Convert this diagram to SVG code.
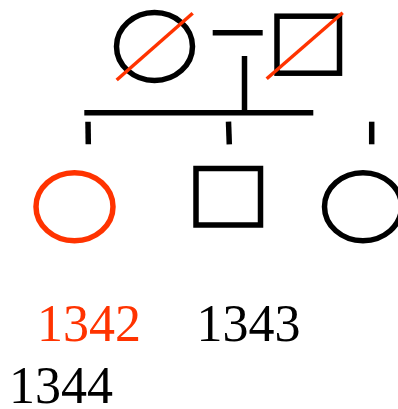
<svg xmlns="http://www.w3.org/2000/svg" width="398" height="409" viewBox="0 0 398 409">
<style>
.s{fill:none;stroke:#000;stroke-width:5.5}
.r{fill:none;stroke:#ff3300;stroke-width:5.5}
.sl{stroke:#ff3300;stroke-width:3.5}
.ln{stroke:#000;stroke-width:5.5;fill:none}
.t{font-family:"Liberation Serif","Times New Roman",serif;font-size:52px}
</style>
<rect width="398" height="409" fill="#fff"/>
<g id="connectors">
<line class="ln" x1="212.7" y1="32.7" x2="262.7" y2="32.7"/>
<line class="ln" x1="244.5" y1="56" x2="244.5" y2="113"/>
<line class="ln" x1="84.3" y1="112.8" x2="313.3" y2="112.8"/>
<line class="ln" x1="88" y1="121.7" x2="88.3" y2="144.3"/>
<line class="ln" x1="228.5" y1="121.7" x2="229.3" y2="144.3"/>
<line class="ln" x1="371.7" y1="121.7" x2="371.7" y2="144.3"/>
</g>
<g id="mother">
<ellipse class="s" cx="154.5" cy="46.5" rx="38" ry="34"/>
<line class="sl" x1="116.7" y1="80" x2="192.7" y2="13.3"/>
</g>
<g id="father">
<rect class="s" x="277" y="16.2" width="62.5" height="57"/>
<line class="sl" x1="266.7" y1="78.7" x2="342.7" y2="12.7"/>
</g>
<g id="child1342">
<ellipse class="r" cx="74.5" cy="206.7" rx="38.5" ry="34"/>
</g>
<g id="child1343">
<rect class="s" x="196" y="168.5" width="64.5" height="56.5"/>
</g>
<g id="child1344">
<ellipse class="s" cx="363" cy="206.7" rx="38.5" ry="34"/>
</g>
<g id="labels">
<text class="t" x="37" y="340.7" fill="#ff3300">1342</text>
<text class="t" x="196.5" y="340.7" fill="#000">1343</text>
<text class="t" x="9" y="403.3" fill="#000">1344</text>
</g>
</svg>
